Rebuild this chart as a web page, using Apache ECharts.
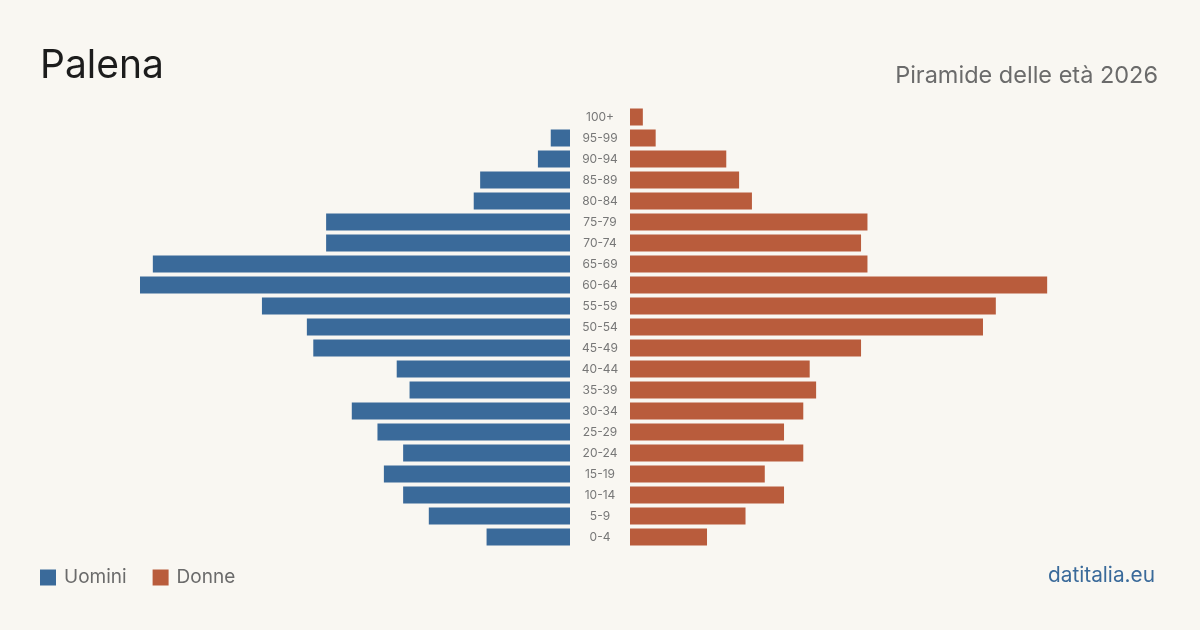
<!DOCTYPE html>
<html><head><meta charset="utf-8">
<script src="https://cdn.jsdelivr.net/npm/echarts@6/dist/echarts.min.js"></script>
<style>html,body{margin:0;padding:0;background:#f9f7f2}#c{width:1200px;height:630px}</style>
</head><body><div id="c"></div>
<script>
const categories = ['0-4','5-9','10-14','15-19','20-24','25-29','30-34','35-39','40-44','45-49','50-54','55-59','60-64','65-69','70-74','75-79','80-84','85-89','90-94','95-99','100+'];
const men   = [13,22,26,29,26,30,34,25,27,40,41,48,67,65,38,38,15,14,5,3,0];
const women = [12,18,24,21,27,24,27,29,28,36,55,57,65,37,36,37,19,17,15,4,2];
const title = 'Palena';
const subtitle = 'Piramide delle età 2026';
const source = 'datitalia.eu';
const seriesNames = ['Uomini','Donne'];
const colors = ['#3a6a9a','#b95c3c'];

const maxV = Math.max(...men, ...women);
const font = 'Inter, "Noto Sans", sans-serif';
const chart = echarts.init(document.getElementById('c'), null, {renderer:'canvas'});
chart.setOption({
  backgroundColor:'#f9f7f2',
  animation:false,
  textStyle:{fontFamily:font},
  title:[
    {text:title,left:40,top:47,padding:0,textStyle:{fontFamily:font,fontSize:39,fontWeight:'normal',color:'#1c1c1c'}},
    {text:subtitle,right:42,top:64,padding:0,textStyle:{fontFamily:font,fontSize:23.5,fontWeight:'normal',color:'#6b6b6b'}},
    {text:source,right:45,top:565,padding:0,textStyle:{fontFamily:font,fontSize:20.8,fontWeight:'normal',color:'#3a6a9a'}}
  ],
  legend:{
    left:40,top:568,padding:0,itemWidth:16,itemHeight:16,itemGap:26,icon:'rect',
    data:seriesNames,
    textStyle:{fontFamily:font,fontSize:19,color:'#6b6b6b',padding:[0,0,0,3]}
  },
  grid:[
    {left:140,width:430,top:106.5,height:441},
    {left:630,width:430,top:106.5,height:441}
  ],
  xAxis:[
    {gridIndex:0,type:'value',inverse:true,min:0,max:maxV,show:false},
    {gridIndex:1,type:'value',min:0,max:maxV,show:false}
  ],
  yAxis:[
    {gridIndex:0,type:'category',data:categories,axisLine:{show:false},axisTick:{show:false},axisLabel:{show:false}},
    {gridIndex:1,type:'category',data:categories,position:'left',axisLine:{show:false},axisTick:{show:false},
     axisLabel:{show:true,align:'center',margin:30,fontSize:12,color:'#777',fontFamily:font}}
  ],
  series:[
    {name:seriesNames[0],type:'bar',xAxisIndex:0,yAxisIndex:0,data:men,barCategoryGap:'19%',itemStyle:{color:colors[0]}},
    {name:seriesNames[1],type:'bar',xAxisIndex:1,yAxisIndex:1,data:women,barCategoryGap:'19%',itemStyle:{color:colors[1]}}
  ]
});
</script></body></html>
